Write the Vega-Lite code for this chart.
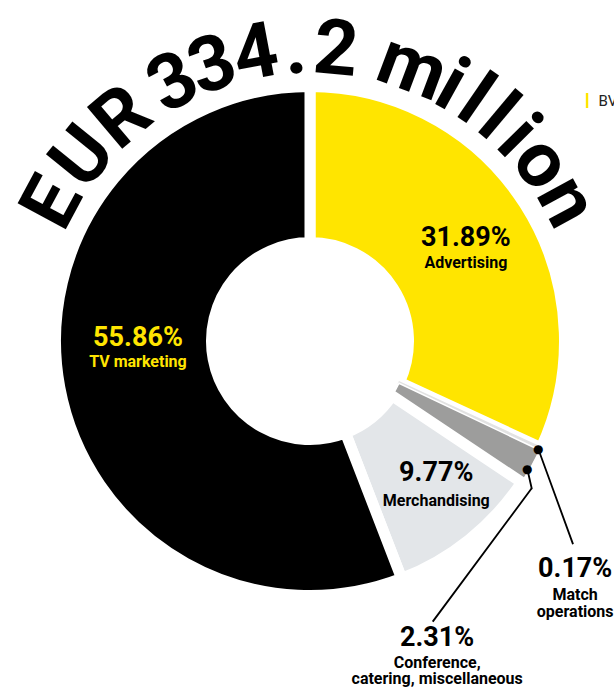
{
  "$schema": "https://vega.github.io/schema/vega-lite/v6.json",
  "width": 608,
  "height": 682,
  "autosize": {"type": "none"},
  "padding": {"left": 6, "top": 0, "right": 0, "bottom": 5},
  "background": "white",
  "config": {"view": {"stroke": null}},
  "datasets": {
    "shares": [
      {"k": 1, "category": "Advertising", "share": 0.3189, "name": "Advertising"},
      {"k": 2, "category": "Match operations", "share": 0.0017, "name": "Match\noperations"},
      {"k": 3, "category": "Conference, catering, miscellaneous", "share": 0.0231, "name": "Conference,\ncatering, miscellaneous"},
      {"k": 4, "category": "Merchandising", "share": 0.0977, "name": "Merchandising"},
      {"k": 5, "category": "TV marketing", "share": 0.5586, "name": "TV marketing"}
    ],
    "title": [
      {"ch": "E", "i": 0}, {"ch": "U", "i": 1}, {"ch": "R", "i": 2},
      {"ch": "3", "i": 4}, {"ch": "3", "i": 5}, {"ch": "4", "i": 6}, {"ch": ".", "i": 7}, {"ch": "2", "i": 8},
      {"ch": "m", "i": 10}, {"ch": "i", "i": 11}, {"ch": "l", "i": 12}, {"ch": "l", "i": 13},
      {"ch": "i", "i": 14}, {"ch": "o", "i": 15}, {"ch": "n", "i": 16}
    ]
  },
  "layer": [
    {
      "data": {"name": "shares"},
      "encoding": {
        "theta": {"field": "share", "type": "quantitative", "stack": true},
        "order": {"field": "k", "type": "quantitative"}
      },
      "layer": [
        {
          "mark": {"type": "arc", "radius": 254.5, "radius2": 98.5},
          "encoding": {
            "color": {
              "field": "category",
              "type": "nominal",
              "scale": {
                "domain": ["Advertising", "Match operations", "Conference, catering, miscellaneous", "Merchandising", "TV marketing"],
                "range": ["#FFE500", "#E2E2E2", "#9D9D9C", "#E3E6E9", "#000000"]
              },
              "legend": {
                "values": ["Advertising"],
                "labelExpr": "'BVB'",
                "orient": "none",
                "legendX": 573.5,
                "legendY": 93,
                "title": null,
                "padding": 0,
                "symbolType": "M-0.16,-1L0.16,-1L0.16,1L-0.16,1Z",
                "symbolSize": 225,
                "symbolStrokeWidth": 0,
                "labelFont": "Roboto",
                "labelFontSize": 15,
                "labelColor": "#222222",
                "labelOffset": 4,
                "encode": {
                  "symbols": {
                    "update": {
                      "fill": {"value": "#FFE500"},
                      "stroke": {"value": "transparent"},
                      "opacity": {"value": 1}
                    }
                  }
                }
              }
            },
            "stroke": {
              "condition": {"test": "datum.k == 2", "value": "#E2E2E2"},
              "value": "white"
            },
            "strokeWidth": {
              "condition": [
                {"test": "datum.k == 2", "value": 2},
                {"test": "datum.k == 3", "value": 1.5}
              ],
              "value": 11
            }
          }
        },
        {
          "mark": {"type": "text", "radius": 185, "dy": -3, "font": "Roboto", "fontWeight": "bold", "fontSize": 27, "baseline": "middle", "align": "center", "color": "#000000"},
          "encoding": {"text": {"condition": {"test": "datum.k != 1", "value": ""}, "field": "share", "type": "quantitative", "format": ".2%"}}
        },
        {
          "mark": {"type": "text", "radius": 185, "dy": 22, "font": "Roboto", "fontWeight": "bold", "fontSize": 16, "baseline": "middle", "align": "center", "color": "#000000"},
          "encoding": {"text": {"condition": {"test": "datum.k != 1", "value": ""}, "field": "name", "type": "nominal"}}
        },
        {
          "mark": {"type": "text", "radius": 202, "dy": -26, "font": "Roboto", "fontWeight": "bold", "fontSize": 27, "baseline": "middle", "align": "center", "color": "#000000"},
          "encoding": {"text": {"condition": {"test": "datum.k != 4", "value": ""}, "field": "share", "type": "quantitative", "format": ".2%"}}
        },
        {
          "mark": {"type": "text", "radius": 202, "dy": 2, "font": "Roboto", "fontWeight": "bold", "fontSize": 16, "baseline": "middle", "align": "center", "color": "#000000"},
          "encoding": {"text": {"condition": {"test": "datum.k != 4", "value": ""}, "field": "name", "type": "nominal"}}
        },
        {
          "mark": {"type": "text", "radius": 175, "dy": -35, "font": "Roboto", "fontWeight": "bold", "fontSize": 27, "baseline": "middle", "align": "center", "color": "#FFE500"},
          "encoding": {"text": {"condition": {"test": "datum.k != 5", "value": ""}, "field": "share", "type": "quantitative", "format": ".2%"}}
        },
        {
          "mark": {"type": "text", "radius": 175, "dy": -11, "font": "Roboto", "fontWeight": "bold", "fontSize": 16, "baseline": "middle", "align": "center", "color": "#FFE500"},
          "encoding": {"text": {"condition": {"test": "datum.k != 5", "value": ""}, "field": "name", "type": "nominal"}}
        },
        {
          "mark": {"type": "text", "radius": 252, "dx": 37, "dy": 121, "font": "Roboto", "fontWeight": "bold", "fontSize": 27, "baseline": "middle", "align": "center", "color": "#000000"},
          "encoding": {"text": {"condition": {"test": "datum.k != 2", "value": ""}, "field": "share", "type": "quantitative", "format": ".2%"}}
        },
        {
          "mark": {"type": "text", "radius": 252, "dx": 37, "dy": 152, "lineBreak": "\n", "lineHeight": 17.5, "font": "Roboto", "fontWeight": "bold", "fontSize": 16, "baseline": "alphabetic", "align": "center", "color": "#000000"},
          "encoding": {"text": {"condition": {"test": "datum.k != 2", "value": ""}, "field": "name", "type": "nominal"}}
        },
        {
          "mark": {"type": "text", "radius": 252, "dx": -92, "dy": 173, "font": "Roboto", "fontWeight": "bold", "fontSize": 27, "baseline": "middle", "align": "center", "color": "#000000"},
          "encoding": {"text": {"condition": {"test": "datum.k != 3", "value": ""}, "field": "share", "type": "quantitative", "format": ".2%"}}
        },
        {
          "mark": {"type": "text", "radius": 252, "dx": -92, "dy": 203, "lineBreak": "\n", "lineHeight": 16, "font": "Roboto", "fontWeight": "bold", "fontSize": 16, "baseline": "alphabetic", "align": "center", "color": "#000000"},
          "encoding": {"text": {"condition": {"test": "datum.k != 3", "value": ""}, "field": "name", "type": "nominal"}}
        },
        {
          "mark": {"type": "text", "radius": 252, "dy": 1, "font": "DejaVu Sans", "fontSize": 12, "baseline": "middle", "align": "center", "color": "#000000"},
          "encoding": {"text": {"condition": {"test": "datum.k != 2", "value": ""}, "value": "●"}}
        },
        {
          "mark": {"type": "text", "radius": 252, "dx": -2, "dy": 3.7, "font": "DejaVu Sans", "fontSize": 12, "baseline": "middle", "align": "center", "color": "#000000"},
          "encoding": {"text": {"condition": {"test": "datum.k != 3", "value": ""}, "value": "●"}}
        }
      ]
    },
    {
      "data": {"values": [{}]},
      "layer": [
        {
          "mark": {"type": "arc", "theta": 2.7917, "theta2": 2.7922, "radius": 100.4, "radius2": 0, "xOffset": 228.3, "yOffset": 108, "filled": false, "color": "#000000", "strokeWidth": 1.8},
          "encoding": {}
        },
        {
          "mark": {"type": "arc", "theta": 2.918, "theta2": 2.9185, "radius": 19.8, "radius2": 0, "xOffset": 217.3, "yOffset": 128, "filled": false, "color": "#000000", "strokeWidth": 1.8},
          "encoding": {}
        },
        {
          "mark": {"type": "arc", "theta": 3.7797, "theta2": 3.7802, "radius": 165.2, "radius2": 0, "xOffset": 221.7, "yOffset": 147.3, "filled": false, "color": "#000000", "strokeWidth": 1.8},
          "encoding": {}
        }
      ]
    },
    {
      "data": {"name": "title"},
      "mark": {"type": "text", "radius": 268, "font": "Roboto", "fontWeight": "bold", "fontSize": 77, "baseline": "alphabetic", "align": "center", "color": "#000000"},
      "encoding": {
        "text": {"field": "ch", "type": "nominal"},
        "theta": {
          "field": "i",
          "type": "quantitative",
          "scale": {
            "domain": [0, 1, 2, 4, 5, 6, 7, 8, 10, 11, 12, 13, 14, 15, 16],
            "range": [-1.0786, -0.8901, -0.6999, -0.4869, -0.3403, -0.1867, -0.0489, 0.0890, 0.3578, 0.5061, 0.6021, 0.6981, 0.7941, 0.9163, 1.0734]
          }
        },
        "angle": {
          "field": "i",
          "type": "quantitative",
          "scale": {
            "domain": [0, 1, 2, 4, 5, 6, 7, 8, 10, 11, 12, 13, 14, 15, 16],
            "range": [-61.8, -51, -40.1, -27.9, -19.5, -10.7, -2.8, 5.1, 20.5, 29, 34.5, 40, 45.5, 52.5, 61.5]
          }
        }
      }
    }
  ],
  "resolve": {"scale": {"theta": "independent"}}
}
